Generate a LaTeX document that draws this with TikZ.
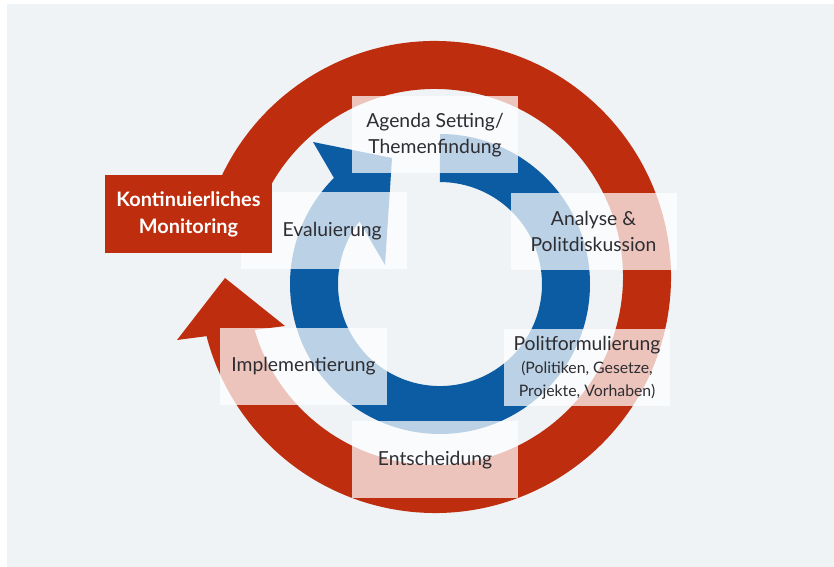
\documentclass[tikz,border=0pt]{standalone}
\usepackage{fontspec}
\setmainfont{Lato}
\usetikzlibrary{calc}

\definecolor{fondo}{RGB}{239,243,246}
\definecolor{rojo}{RGB}{190,46,14}
\definecolor{azul}{RGB}{12,92,164}
\definecolor{texto}{RGB}{45,45,50}

\tikzset{
  caja/.style={fill=white, fill opacity=0.72, text opacity=1, minimum width=4.98cm,
    minimum height=2.31cm, align=center, inner sep=0pt, text=texto,
    font=\fontsize{16.5}{22}\selectfont},
}

\begin{document}
\begin{tikzpicture}[x=0.03cm, y=0.03cm]
    \useasboundingbox (0,0) rectangle (834,567);
    % Fondo
    \fill[fondo] (7,0) rectangle (834,563);

    % Flecha roja exterior
    \draw[rojo, line width=1.44cm] (435,290) ++(168:212) arc[start angle=168, end angle=-166, radius=212];
    \fill[rojo] (177,227) -- (225,289) -- (285,241) -- cycle;

    % Flecha azul interior
    \fill[azul] (440,433) arc[start angle=90, end angle=-225, radius=150]
        -- (313,425) -- (392,409) -- (385,302) -- (359.5,345.6)
        arc[start angle=-217.9, end angle=90, radius=102] -- cycle;

    % Cajas
    \node[caja] (agenda) at (435,432) {Agenda Setting/\\Themenfindung};
    \node[caja] (analyse) at (593.5,335.5) {Analyse \&\\Politdiskussion};
    \node[caja] (evaluierung) at (324,336) {\hspace*{14pt}Evaluierung};
    \node[caja] (implement) at (303.5,200.5) {Implementierung};
    \node[caja] (politform) at (587,199.5) {Politformulierung\\[-2pt]
        {\fontsize{13.5}{17}\selectfont (Politiken, Gesetze,}\\[-3pt]
        {\fontsize{13.5}{17}\selectfont Projekte, Vorhaben)}};
    \node[caja] (entscheid) at (435,107) {Entscheidung};

    % Monitoring
    \node[fill=rojo, text=white, minimum width=5.01cm, minimum height=2.34cm, inner sep=0pt,
        align=center, font=\bfseries\fontsize{17}{23}\selectfont] (monitor) at (188.5,353)
        {Kontinuierliches\\Monitoring};
\end{tikzpicture}
\end{document}
